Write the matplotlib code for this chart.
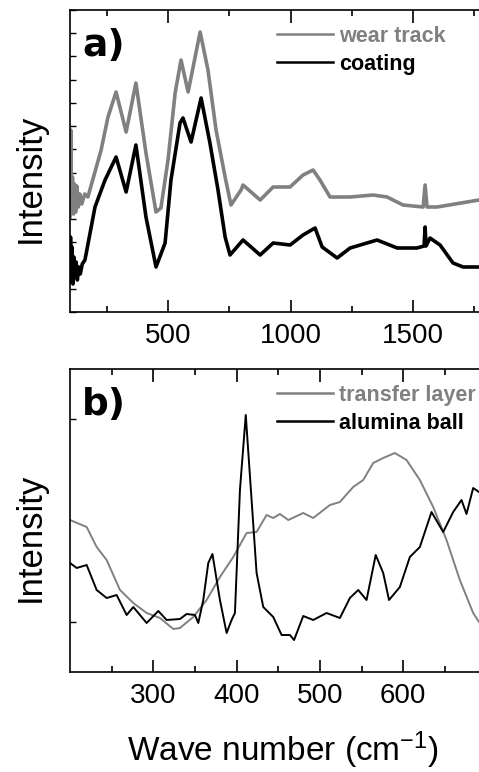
import numpy as np
import matplotlib
matplotlib.use("Agg")
import matplotlib.pyplot as plt
from matplotlib.ticker import FixedLocator

plt.rcParams['font.family'] = ['Liberation Sans', 'DejaVu Sans']
plt.rcParams['mathtext.fontset'] = 'custom'
plt.rcParams['mathtext.rm'] = 'Liberation Sans'
plt.rcParams['mathtext.it'] = 'Liberation Sans'

# ---------------- Panel a data ----------------
wear_x = [100, 103, 106, 110, 114, 118, 123, 128, 134, 140, 148, 160, 173, 227, 255, 288, 329,
          369, 410, 451, 471, 500, 529, 553, 582, 631, 663, 696, 733, 757, 798, 806, 876,
          929, 998, 1051, 1092, 1120, 1161, 1243, 1337, 1394, 1459, 1541, 1549, 1557, 1598,
          1769]
wear_y = [95, 182, 100, 135, 98, 128, 100, 126, 105, 118, 108, 118, 115, 162, 195, 220, 180,
          229, 159, 100, 104, 152, 219, 252, 220, 280, 242, 182, 135, 107, 122, 127, 112,
          125, 125, 137, 142, 132, 115, 115, 117, 115, 107, 105, 127, 105, 105,
          112]

coat_x = [100, 102, 105, 108, 112, 116, 120, 125, 130, 136, 142, 150, 161, 202, 243, 288, 329,
          369, 410, 451, 488, 512, 549, 561, 594, 635, 671, 704, 733, 753, 806, 876, 929,
          998, 1051, 1100, 1129, 1190, 1243, 1353, 1435, 1516, 1545, 1549, 1553, 1569, 1610,
          1663, 1704, 1769]
coat_y = [40, 75, 30, 65, 28, 55, 35, 50, 32, 45, 38, 48, 52, 105, 132, 155, 120,
          167, 95, 45, 69, 132, 189, 194, 170, 214, 169, 122, 75, 57, 72, 57, 69,
          67, 77, 84, 65, 54, 64, 72, 64, 64, 66, 85, 66, 74, 67,
          49, 45, 45]

# ---------------- Panel b data ----------------
trans_x = [200, 220, 232, 244, 260, 276, 292, 308, 324, 332, 348, 364, 380, 396, 412, 424, 436,
           444, 452, 462, 480, 492, 512, 524, 540, 552, 564, 576, 590, 604, 620, 636, 652,
           668, 684, 691]
trans_y = [152, 145, 125, 112, 82, 69, 59, 54, 43, 44, 55, 72, 95, 115, 139, 140, 157,
           154, 158, 152, 159, 154, 167, 170, 185, 192, 209, 214, 219, 212, 192, 165, 132,
           92, 59, 50]

ball_x = [200, 208, 220, 232, 244, 256, 268, 276, 292, 306, 316, 332, 340, 350, 354, 360, 366,
          371, 380, 388, 394, 398, 404, 411, 418, 424, 432, 444, 454, 464, 469, 480, 492,
          508, 524, 536, 546, 556, 567, 576, 583, 596, 608, 620, 634, 648, 660, 670, 676,
          684, 691]
ball_y = [109, 104, 107, 82, 74, 77, 57, 65, 49, 61, 52, 53, 58, 57, 49, 72, 109,
          118, 72, 39, 52, 59, 182, 257, 172, 99, 65, 55, 37, 37, 32, 56, 52,
          59, 54, 74, 82, 72, 117, 99, 72, 85, 115, 125, 160, 140, 160, 172, 158,
          184, 180]

legend_a = ['wear track', 'coating']
legend_b = ['transfer layer', 'alumina ball']
xticks_a = [500, 1000, 1500]
xticks_b = [300, 400, 500, 600]

GRAY = '#808080'
W, H = 479, 772
fig = plt.figure(figsize=(W / 100, H / 100), dpi=100)

def px_axes(l, t, r, b):
    return fig.add_axes([l / W, 1 - b / H, (r - l) / W, (b - t) / H])

ax1 = px_axes(70, 10, 479, 312)
ax2 = px_axes(70, 369, 479, 672)

ax1.plot(wear_x, wear_y, color=GRAY, lw=2.6, label=legend_a[0])
ax1.plot(coat_x, coat_y, color='black', lw=2.6, label=legend_a[1])
ax1.set_xlim(100, 1769)
ax1.set_ylim(0, 302)
ax1.xaxis.set_major_locator(FixedLocator(xticks_a))
ax1.xaxis.set_minor_locator(FixedLocator([250, 750, 1250, 1750]))
ax1.yaxis.set_major_locator(FixedLocator(np.linspace(0, 302, 14)))

ax2.plot(trans_x, trans_y, color=GRAY, lw=1.4, label=legend_b[0])
ax2.plot(ball_x, ball_y, color='black', lw=1.4, label=legend_b[1])
ax2.set_xlim(200, 691)
ax2.set_ylim(0, 303)
ax2.xaxis.set_major_locator(FixedLocator(xticks_b))
ax2.xaxis.set_minor_locator(FixedLocator([250, 350, 450, 550, 650]))
ax2.yaxis.set_major_locator(FixedLocator([50, 253]))

legend_tops = [26, 385]
for ax, top in zip((ax1, ax2), legend_tops):
    ax.spines['right'].set_visible(False)
    for s in ('left', 'bottom', 'top'):
        ax.spines[s].set_linewidth(1.2)
    ax.tick_params(axis='x', which='major', direction='in', length=9, width=1.2,
                   top=True, labelsize=20, pad=8)
    ax.tick_params(axis='x', which='minor', direction='in', length=4.5, width=1.2, top=True)
    ax.tick_params(axis='y', which='major', direction='in', length=4, width=1.0,
                   labelleft=False)
    leg = ax.legend(loc='upper left', bbox_to_anchor=(277 / W, 1 - top / H),
                    bbox_transform=fig.transFigure, frameon=False, borderpad=0,
                    borderaxespad=0, handlelength=2.6, handletextpad=0.3,
                    labelspacing=0.32, prop={'weight': 'bold', 'size': 15.5})
    for txt, line in zip(leg.get_texts(), leg.get_lines()):
        txt.set_color(line.get_color())
        line.set_linewidth(1.8)

ax1.text(0.03, 0.94, 'a)', transform=ax1.transAxes, ha='left', va='top',
         fontsize=27, fontweight='bold', family='DejaVu Sans')
ax2.text(0.03, 0.94, 'b)', transform=ax2.transAxes, ha='left', va='top',
         fontsize=27, fontweight='bold', family='DejaVu Sans')

fig.text(30 / W, 1 - 178 / H, 'Intensity', rotation=90, ha='center', va='center', fontsize=25)
fig.text(30 / W, 1 - 537 / H, 'Intensity', rotation=90, ha='center', va='center', fontsize=25)
fig.text(283 / W, 1 - 750 / H, 'Wave number (cm$^{-1}$)', ha='center', va='center', fontsize=24)

fig.savefig('out.png', dpi=100)
